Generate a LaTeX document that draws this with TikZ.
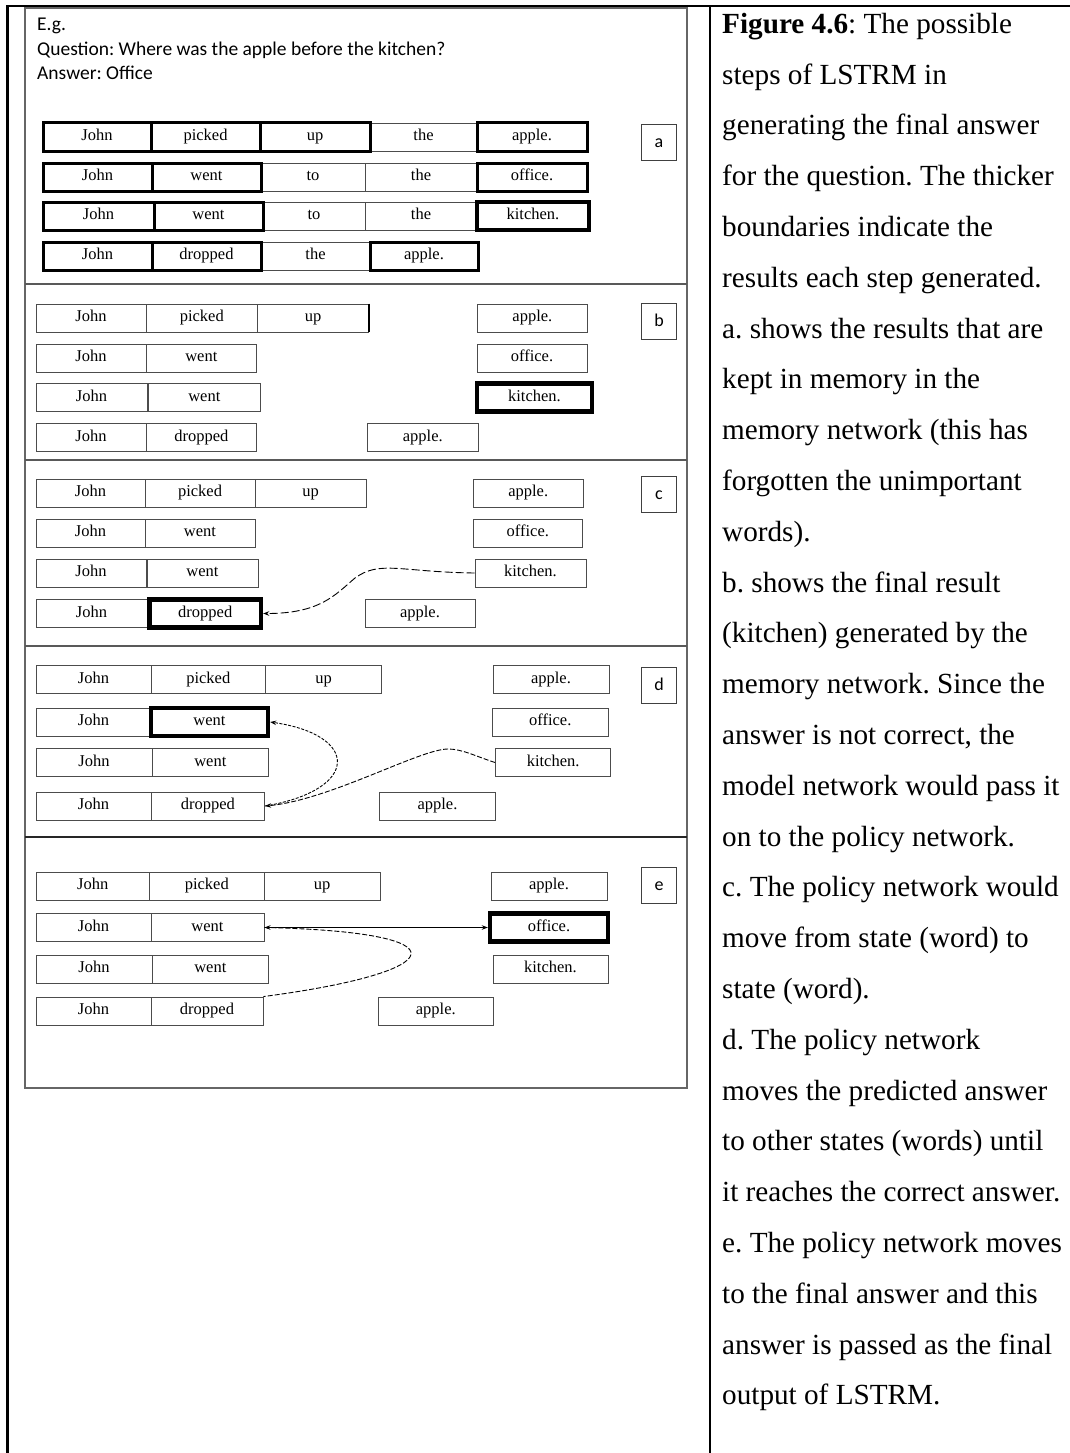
\documentclass[tikz,border=0pt]{standalone}
\usepackage{fontspec}
\setmainfont{Liberation Serif}
\newfontfamily\calib{Carlito}
\usetikzlibrary{arrows.meta}
\frenchspacing

% word box: style, name, left x, right x, centre y, text
\newcommand\wordbox[6]{%
  \node[wb,#1,minimum width={(#4-#3)*1pt}] (#2) at ({(#3+#4)/2},#5) {#6};}

\begin{document}
\begin{tikzpicture}[x=1pt,y=-1pt,
  wb/.style={draw=black!70, line width=0.9pt, rectangle, inner sep=0pt,
             minimum height=28pt, text height=11pt, text depth=3.5pt,
             font=\fontsize{16.5}{17}\selectfont},
  thin/.style={},
  hb/.style={draw=black, line width=3pt},
  xb/.style={draw=black, line width=4.4pt},
  lbl/.style={draw=black!75, line width=0.9pt, rectangle, inner sep=0pt,
              minimum width=35pt, minimum height=36pt, text height=10pt, text depth=0pt,
              font=\calib\fontsize{18}{18}\selectfont},
  rule/.style={line width=2.4pt, black},
  divider/.style={line width=1.5pt, black!65},
  tip/.style={-{Stealth[length=6pt,width=4.5pt]}},
  captext/.style={anchor=base west, inner sep=0pt, font=\fontsize{29.2}{29}\selectfont},
  ques/.style={anchor=base west, inner sep=0pt, font=\calib\fontsize{19.5}{20}\selectfont}
]
\useasboundingbox (0,0) rectangle (1070,1453);
\fill[white] (0,0) rectangle (1070,1453);

% outer table rules
\draw[rule] (7.5,1453) -- (7.5,6) -- (1070,6);
\draw[rule] (710,6) -- (710,1453);

% frame of the example and the step dividers
\draw[black!60, line width=1.2pt] (25,8) rectangle (687,1088);
\draw[divider] (25,284) -- (687,284);
\draw[divider] (25,460) -- (687,460);
\draw[divider] (25,646) -- (687,646);
\draw[divider, black!85] (25,837) -- (687,837);

% question
\node[ques] (eg) at (37,31) {E.g.};
\node[ques] (q) at (37,56) {Question: Where was the apple before the kitchen?};
\node[ques] (ans) at (37,80) {Answer: Office};

% ---------- step a ----------
\wordbox{thin}{a13}{370}{477}{137}{the}
\wordbox{hb}{a11}{43}{151}{137}{John}
\wordbox{hb}{a12}{151}{260}{137}{picked}
\wordbox{hb}{a1u}{260}{370}{137}{up}
\wordbox{hb}{a14}{477}{587}{137}{apple.}
\wordbox{thin}{a23}{261}{365}{177}{to}
\wordbox{thin}{a24}{365}{477}{177}{the}
\wordbox{hb}{a21}{43}{152}{177}{John}
\wordbox{hb}{a22}{152}{261}{177}{went}
\wordbox{hb}{a25}{477}{587}{177}{office.}
\wordbox{thin}{a33}{263}{365}{216}{to}
\wordbox{thin}{a34}{365}{477}{216}{the}
\wordbox{hb}{a31}{43}{154}{216}{John}
\wordbox{hb}{a32}{154}{263}{216}{went}
\wordbox{xb}{a35}{477}{589}{216}{kitchen.}
\wordbox{thin}{a43}{261}{370}{256}{the}
\wordbox{hb}{a41}{43}{152}{256}{John}
\wordbox{hb}{a42}{152}{261}{256}{dropped}
\wordbox{hb}{a44}{370}{478}{256}{apple.}
\node[lbl] (la) at (659,142) {a};

% ---------- step b ----------
\wordbox{thin}{b11}{36}{146}{318}{John}
\wordbox{thin}{b12}{146}{257.6}{318}{picked}
\wordbox{thin}{b1u}{257.6}{368.7}{318}{up}
\wordbox{thin}{b14}{477.7}{587}{318}{apple.}
\wordbox{thin}{b21}{36}{146}{358}{John}
\wordbox{thin}{b22}{146}{256.7}{358}{went}
\wordbox{thin}{b25}{477}{587}{358}{office.}
\wordbox{thin}{b31}{36}{147}{397.5}{John}
\wordbox{thin}{b32}{148.7}{260}{397.5}{went}
\wordbox{xb}{b35}{477}{592}{397.5}{kitchen.}
\wordbox{thin}{b41}{36}{146}{437.5}{John}
\wordbox{thin}{b42}{146}{256.7}{437.5}{dropped}
\wordbox{thin}{b44}{367}{478.6}{437.5}{apple.}
\draw[black, line width=1.6pt] (b1u.north east) -- (b1u.south east);
\node[lbl] (lb) at (659,321) {b};

% ---------- step c ----------
\wordbox{thin}{c11}{36}{145}{493}{John}
\wordbox{thin}{c12}{145}{255}{493}{picked}
\wordbox{thin}{c1u}{255}{366}{493}{up}
\wordbox{thin}{c14}{473}{583.5}{493}{apple.}
\wordbox{thin}{c21}{36}{145}{533}{John}
\wordbox{thin}{c22}{145}{255}{533}{went}
\wordbox{thin}{c25}{473}{582.6}{533}{office.}
\wordbox{thin}{c31}{36}{146}{573}{John}
\wordbox{thin}{c32}{147}{258}{573}{went}
\wordbox{thin}{c35}{475}{586}{573}{kitchen.}
\wordbox{thin}{c41}{36}{147}{613.5}{John}
\wordbox{xb}{c42}{149.5}{261}{613.5}{dropped}
\wordbox{thin}{c44}{365}{475}{613.5}{apple.}
\node[lbl] (lc) at (659,494) {c};
\draw[tip, dash pattern=on 8pt off 3pt, line width=0.9pt]
  (c35.west) .. controls (400,572) and (380,560) .. (355,578)
  .. controls (335,595) and (320,613.5) .. (c42.east);

% ---------- step d ----------
\wordbox{thin}{d11}{36}{151}{679.5}{John}
\wordbox{thin}{d12}{151}{265.6}{679.5}{picked}
\wordbox{thin}{d1u}{265.6}{381.7}{679.5}{up}
\wordbox{thin}{d14}{493}{609}{679.5}{apple.}
\wordbox{thin}{d21}{36}{151}{722}{John}
\wordbox{xb}{d22}{151}{268}{722}{went}
\wordbox{thin}{d25}{492}{608.5}{722}{office.}
\wordbox{thin}{d31}{36}{152}{762.5}{John}
\wordbox{thin}{d32}{152.7}{268}{762.5}{went}
\wordbox{thin}{d35}{495.5}{610.7}{762.5}{kitchen.}
\wordbox{thin}{d41}{36}{151}{806}{John}
\wordbox{thin}{d42}{151}{264.7}{806}{dropped}
\wordbox{thin}{d44}{379.5}{495.5}{806}{apple.}
\node[lbl] (ld) at (659,685) {d};
\draw[tip, dash pattern=on 3pt off 1.5pt, line width=0.9pt]
  (d42.east) .. controls (360,790) and (360,735) .. (d22.east);
\draw[tip, dash pattern=on 5pt off 2pt, line width=0.9pt]
  (d35.west) .. controls (475,756) and (462,749) .. (448,749)
  .. controls (420,749) and (330,800) .. (d42.east);

% ---------- step e ----------
\wordbox{thin}{e11}{36}{149.6}{886}{John}
\wordbox{thin}{e12}{149.6}{264}{886}{picked}
\wordbox{thin}{e1u}{264}{380}{886}{up}
\wordbox{thin}{e14}{491}{607}{886}{apple.}
\wordbox{thin}{e21}{36}{151}{927.5}{John}
\wordbox{thin}{e22}{151}{264}{927.5}{went}
\wordbox{xb}{e25}{490}{608}{927.5}{office.}
\wordbox{thin}{e31}{36}{152}{969}{John}
\wordbox{thin}{e32}{152.7}{268}{969}{went}
\wordbox{thin}{e35}{493}{608}{969}{kitchen.}
\wordbox{thin}{e41}{36}{151}{1011}{John}
\wordbox{thin}{e42}{151}{263}{1011}{dropped}
\wordbox{thin}{e44}{378.6}{493}{1011}{apple.}
\node[lbl] (le) at (659,885) {e};
\draw[{Stealth[length=6pt,width=4.5pt]}-{Stealth[length=6pt,width=4.5pt]}, line width=0.9pt]
  (e22.east) -- (e25.west);
\draw[dash pattern=on 5pt off 2pt, line width=0.9pt]
  (e22.east) .. controls (470,932) and (450,972) .. (e42.north east);

% ---------- caption column ----------
\foreach \t [count=\i from 0] in {
  {\textbf{Figure 4.6}: The possible},
  {steps of LSTRM in},
  {generating the final answer},
  {for the question. The thicker},
  {boundaries indicate the},
  {results each step generated.},
  {a. shows the results that are},
  {kept in memory in the},
  {memory network (this has},
  {forgotten the unimportant},
  {words).},
  {b. shows the final result},
  {(kitchen) generated by the},
  {memory network. Since the},
  {answer is not correct, the},
  {model network would pass it},
  {on to the policy network.},
  {c. The policy network would},
  {move from state (word) to},
  {state (word).},
  {d. The policy network},
  {moves the predicted answer},
  {to other states (words) until},
  {it reaches the correct answer.},
  {e. The policy network moves},
  {to the final answer and this},
  {answer is passed as the final},
  {output of LSTRM.}}
  \node[captext] (cap\i) at (722,33.3+\i*50.8) {\t};
\end{tikzpicture}
\end{document}
